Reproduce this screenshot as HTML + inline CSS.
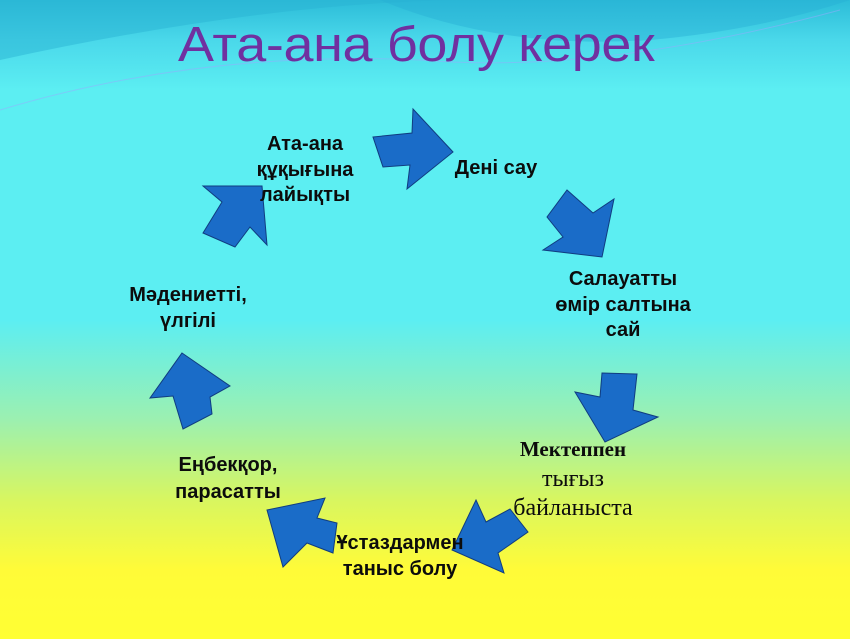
<!DOCTYPE html>
<html><head><meta charset="utf-8"><style>
html,body{margin:0;padding:0}
body{width:850px;height:639px;overflow:hidden;position:relative;
background:linear-gradient(to bottom,#2cbcd8 0px,#4ad8ea 40px,#5ceef2 90px,#5ceef2 320px,#9cf0b0 420px,#d8f660 500px,#fffb38 570px,#ffff33 639px);
font-family:"Liberation Sans",sans-serif}
.t{position:absolute;font-weight:bold;font-size:20px;color:#0c0c0c;text-align:center;line-height:25.5px;white-space:nowrap;transform:translateX(-50%)}
.s{position:absolute;font-family:"Liberation Serif",serif;color:#0c0c0c;text-align:center;white-space:nowrap;transform:translateX(-50%)}
svg{position:absolute;left:0;top:0}
</style></head><body>
<svg width="850" height="639">
<path d="M0 60 Q250 5 450 0 L0 0Z" fill="#2ab4d4" opacity="0.5"/>
<path d="M380 0 Q500 50 650 40 Q760 30 850 0Z" fill="#28b0d4" opacity="0.45"/>
<path d="M0 110 Q200 50 420 60 Q600 75 840 10" stroke="#9af" stroke-width="1" fill="none" opacity="0.5"/>
<g fill="#1a6cc8" stroke="#103c80" stroke-width="1">
<polygon points="373,137 412,133 413,109 453,152 407,189 410,165 383,167"/>
<polygon points="567,190 593,213 614,199 602,257 543,250 563,237 547,217"/>
<polygon points="602,373 637,374 633,410 658,417 605,442 575,392 600,397"/>
<polygon points="476,500 486,522 510,509 528,532 498,553 504,573 452,550"/>
<polygon points="267,510 325,498 317,518 337,523 333,553 307,543 283,567"/>
<polygon points="182,353 230,386 210,397 212,414 183,429 173,396 150,398"/>
<polygon points="203,186 262,186 267,245 250,227 235,247 203,233 222,202"/>
</g>
</svg>
<div style="position:absolute;left:178px;top:17px;font-size:49px;color:#7030a0;white-space:nowrap;letter-spacing:-0.3px;transform:scaleX(1.1);transform-origin:0 0">Ата-ана болу керек</div>
<div class="t" style="left:305px;top:132px">Ата-ана<br>құқығына<br>лайықты</div>
<div class="t" style="left:496px;top:156px">Дені сау</div>
<div class="t" style="left:623px;top:267px">Салауатты<br>өмір салтына<br>сай</div>
<div class="s" style="left:573px;top:437px;font-weight:bold;font-size:21px">Мектеппен</div>
<div class="s" style="left:573px;top:466px;font-size:24px">тығыз</div>
<div class="s" style="left:573px;top:495px;font-size:24px">байланыста</div>
<div class="t" style="left:400px;top:531px">Ұстаздармен<br>таныс болу</div>
<div class="t" style="left:228px;top:452px;line-height:27px">Еңбекқор,<br>парасатты</div>
<div class="t" style="left:188px;top:283px">Мәдениетті,<br>үлгілі</div>
</body></html>
